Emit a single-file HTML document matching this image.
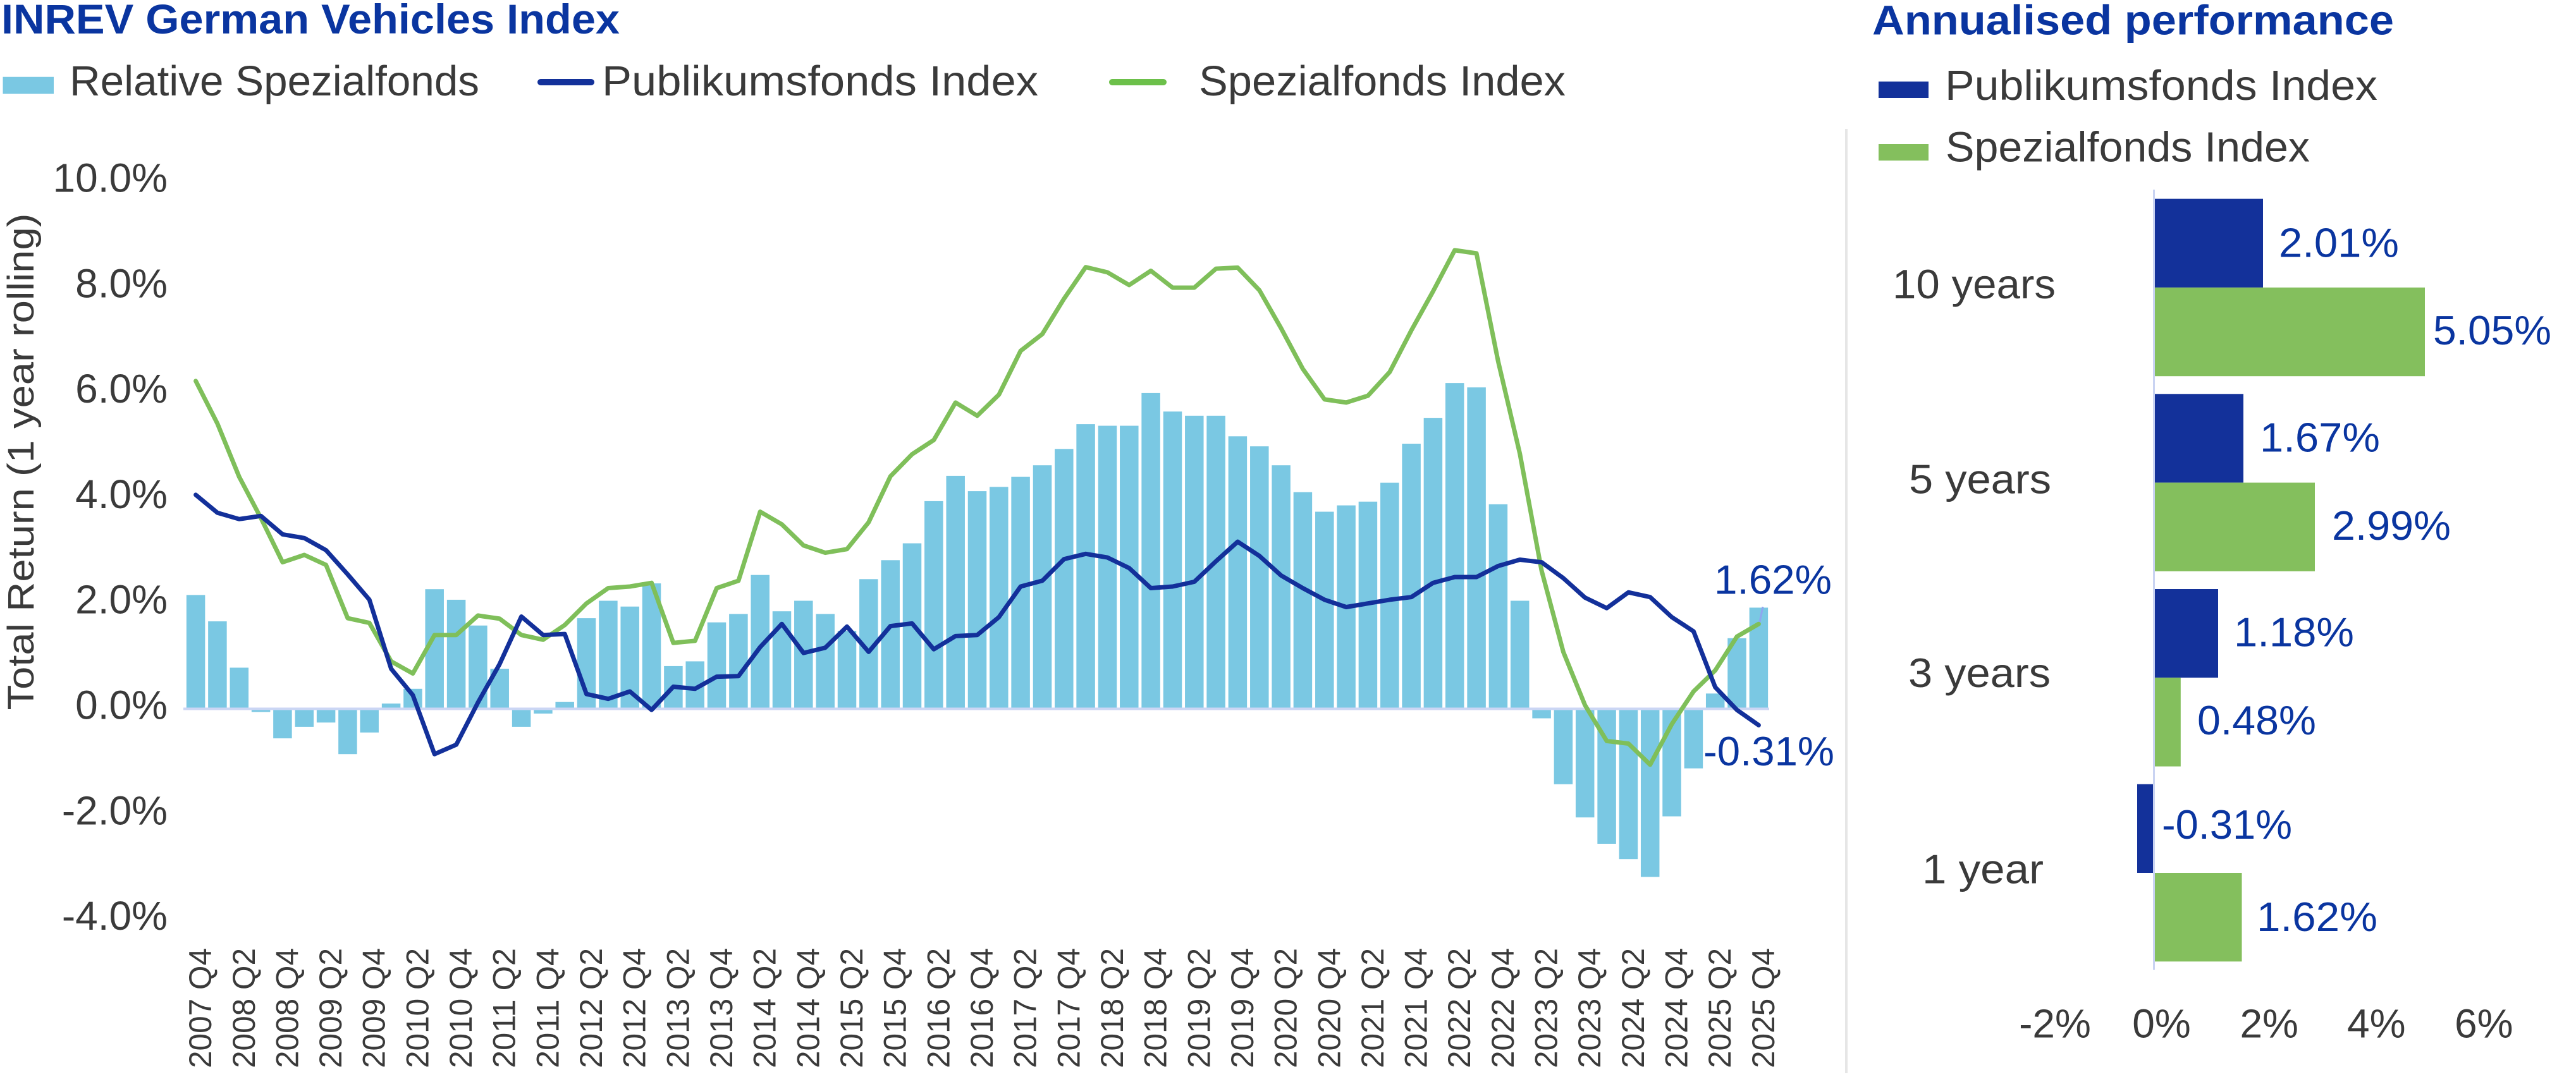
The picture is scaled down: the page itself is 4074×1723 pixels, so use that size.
<!DOCTYPE html>
<html>
<head>
<meta charset="utf-8">
<style>
html,body{margin:0;padding:0;background:#fff;}
svg{display:block;}
text{font-family:"Liberation Sans",Arial,sans-serif;}
</style>
</head>
<body>
<svg width="4074" height="1723" viewBox="0 0 4074 1723" xmlns="http://www.w3.org/2000/svg">
<rect x="0" y="0" width="4074" height="1723" fill="#ffffff"/>

<!-- Titles -->
<text x="2" y="53" font-size="66" font-weight="bold" fill="#0a35a0" textLength="978" lengthAdjust="spacingAndGlyphs">INREV German Vehicles Index</text>
<text x="2961" y="54.5" font-size="66" font-weight="bold" fill="#0a35a0" textLength="825" lengthAdjust="spacingAndGlyphs">Annualised performance</text>

<!-- Left legend -->
<rect x="4.5" y="121.7" width="80.5" height="26.8" fill="#7ac8e3"/>
<text x="110" y="151" font-size="67" fill="#3a3a3a" textLength="648" lengthAdjust="spacingAndGlyphs">Relative Spezialfonds</text>
<line x1="855" y1="130" x2="935" y2="130" stroke="#13319a" stroke-width="10" stroke-linecap="round"/>
<text x="952" y="151" font-size="67" fill="#3a3a3a" textLength="690" lengthAdjust="spacingAndGlyphs">Publikumsfonds Index</text>
<line x1="1759" y1="130" x2="1840" y2="130" stroke="#6cc04a" stroke-width="10" stroke-linecap="round"/>
<text x="1896" y="151" font-size="67" fill="#3a3a3a" textLength="580" lengthAdjust="spacingAndGlyphs">Spezialfonds Index</text>

<!-- Right legend -->
<rect x="2971" y="129" width="79" height="26" fill="#13319a"/>
<text x="3076" y="158" font-size="67" fill="#3a3a3a" textLength="684" lengthAdjust="spacingAndGlyphs">Publikumsfonds Index</text>
<rect x="2971" y="228" width="79" height="26" fill="#84bf5d"/>
<text x="3077" y="255.5" font-size="67" fill="#3a3a3a" textLength="576" lengthAdjust="spacingAndGlyphs">Spezialfonds Index</text>

<!-- Separator -->
<line x1="2920" y1="204" x2="2920" y2="1698" stroke="#e6e6e6" stroke-width="4"/>

<!-- Y axis title -->
<text transform="translate(53 1123.5) rotate(-90)" font-size="58" fill="#3a3a3a" textLength="786" lengthAdjust="spacingAndGlyphs">Total Return (1 year rolling)</text>

<!-- Y tick labels -->
<g font-size="64" fill="#3a3a3a" text-anchor="end">
<text x="265" y="303.5">10.0%</text>
<text x="265" y="470.3">8.0%</text>
<text x="265" y="637.1">6.0%</text>
<text x="265" y="803.9">4.0%</text>
<text x="265" y="970.7">2.0%</text>
<text x="265" y="1137.5">0.0%</text>
<text x="265" y="1304.3">-2.0%</text>
<text x="265" y="1471.1">-4.0%</text>
</g>

<!-- Bars -->
<g fill="#7ac8e3">
<rect x="294.85" y="941.4" width="29.5" height="180.1"/>
<rect x="329.15" y="983.1" width="29.5" height="138.4"/>
<rect x="363.55" y="1056.4" width="29.5" height="65.1"/>
<rect x="397.85" y="1121.5" width="29.5" height="5.0"/>
<rect x="432.15" y="1121.5" width="29.5" height="46.7"/>
<rect x="466.55" y="1121.5" width="29.5" height="28.4"/>
<rect x="500.85" y="1121.5" width="29.5" height="21.7"/>
<rect x="535.15" y="1121.5" width="29.5" height="71.7"/>
<rect x="569.45" y="1121.5" width="29.5" height="37.5"/>
<rect x="603.85" y="1113.2" width="29.5" height="8.3"/>
<rect x="638.15" y="1089.8" width="29.5" height="31.7"/>
<rect x="672.45" y="932.2" width="29.5" height="189.3"/>
<rect x="706.85" y="948.9" width="29.5" height="172.6"/>
<rect x="741.15" y="989.7" width="29.5" height="131.8"/>
<rect x="775.45" y="1058.1" width="29.5" height="63.4"/>
<rect x="809.85" y="1121.5" width="29.5" height="28.4"/>
<rect x="844.15" y="1121.5" width="29.5" height="7.5"/>
<rect x="878.45" y="1110.7" width="29.5" height="10.8"/>
<rect x="912.75" y="978.1" width="29.5" height="143.4"/>
<rect x="947.15" y="950.5" width="29.5" height="171.0"/>
<rect x="981.45" y="959.7" width="29.5" height="161.8"/>
<rect x="1015.75" y="923.0" width="29.5" height="198.5"/>
<rect x="1050.15" y="1053.9" width="29.5" height="67.6"/>
<rect x="1084.45" y="1046.4" width="29.5" height="75.1"/>
<rect x="1118.75" y="984.7" width="29.5" height="136.8"/>
<rect x="1153.15" y="971.4" width="29.5" height="150.1"/>
<rect x="1187.45" y="909.7" width="29.5" height="211.8"/>
<rect x="1221.75" y="967.2" width="29.5" height="154.3"/>
<rect x="1256.05" y="950.5" width="29.5" height="171.0"/>
<rect x="1290.45" y="971.4" width="29.5" height="150.1"/>
<rect x="1324.75" y="998.1" width="29.5" height="123.4"/>
<rect x="1359.05" y="916.3" width="29.5" height="205.2"/>
<rect x="1393.45" y="886.3" width="29.5" height="235.2"/>
<rect x="1427.75" y="859.6" width="29.5" height="261.9"/>
<rect x="1462.05" y="792.9" width="29.5" height="328.6"/>
<rect x="1496.45" y="752.9" width="29.5" height="368.6"/>
<rect x="1530.75" y="777.1" width="29.5" height="344.4"/>
<rect x="1565.05" y="770.4" width="29.5" height="351.1"/>
<rect x="1599.35" y="754.5" width="29.5" height="367.0"/>
<rect x="1633.75" y="736.2" width="29.5" height="385.3"/>
<rect x="1668.05" y="710.3" width="29.5" height="411.2"/>
<rect x="1702.35" y="671.1" width="29.5" height="450.4"/>
<rect x="1736.75" y="673.6" width="29.5" height="447.9"/>
<rect x="1771.05" y="673.6" width="29.5" height="447.9"/>
<rect x="1805.35" y="621.9" width="29.5" height="499.6"/>
<rect x="1839.75" y="651.1" width="29.5" height="470.4"/>
<rect x="1874.05" y="657.8" width="29.5" height="463.7"/>
<rect x="1908.35" y="657.8" width="29.5" height="463.7"/>
<rect x="1942.65" y="690.3" width="29.5" height="431.2"/>
<rect x="1977.05" y="706.2" width="29.5" height="415.3"/>
<rect x="2011.35" y="736.2" width="29.5" height="385.3"/>
<rect x="2045.65" y="778.7" width="29.5" height="342.8"/>
<rect x="2080.05" y="809.6" width="29.5" height="311.9"/>
<rect x="2114.35" y="799.6" width="29.5" height="321.9"/>
<rect x="2148.65" y="793.7" width="29.5" height="327.8"/>
<rect x="2183.05" y="763.7" width="29.5" height="357.8"/>
<rect x="2217.35" y="702.0" width="29.5" height="419.5"/>
<rect x="2251.65" y="661.1" width="29.5" height="460.4"/>
<rect x="2285.95" y="606.1" width="29.5" height="515.4"/>
<rect x="2320.35" y="612.8" width="29.5" height="508.7"/>
<rect x="2354.65" y="797.9" width="29.5" height="323.6"/>
<rect x="2388.95" y="950.5" width="29.5" height="171.0"/>
<rect x="2423.35" y="1121.5" width="29.5" height="15.0"/>
<rect x="2457.65" y="1121.5" width="29.5" height="119.3"/>
<rect x="2491.95" y="1121.5" width="29.5" height="171.8"/>
<rect x="2526.35" y="1121.5" width="29.5" height="213.5"/>
<rect x="2560.65" y="1121.5" width="29.5" height="237.7"/>
<rect x="2594.95" y="1121.5" width="29.5" height="266.0"/>
<rect x="2629.25" y="1121.5" width="29.5" height="170.1"/>
<rect x="2663.65" y="1121.5" width="29.5" height="94.2"/>
<rect x="2697.95" y="1097.3" width="29.5" height="24.2"/>
<rect x="2732.25" y="1009.7" width="29.5" height="111.8"/>
<rect x="2766.65" y="961.4" width="29.5" height="160.1"/>
</g>

<!-- Zero line -->
<line x1="290" y1="1121.5" x2="2798" y2="1121.5" stroke="#cbd6f4" stroke-width="4"/>

<!-- Spezialfonds line -->
<polyline fill="none" stroke="#7fbf5a" stroke-width="7" stroke-linejoin="round" stroke-linecap="round" points="
309.6,602.8 343.9,670.3 378.3,754.5 412.6,819.6 446.9,889.6 481.3,878.0 515.6,893.8 549.9,978.1 584.2,985.6 618.6,1046.4
652.9,1065.6 687.2,1004.7 721.6,1004.7 755.9,973.9 790.2,978.9 824.6,1004.7 858.9,1012.2 893.2,988.9 927.5,954.7 961.9,930.5
996.2,928.0 1030.5,922.2 1064.9,1017.2 1099.2,1013.9 1133.5,930.5 1167.9,918.8 1202.2,809.6 1236.5,829.6 1270.8,863.0 1305.2,874.6
1339.5,868.8 1373.8,826.3 1408.2,753.7 1442.5,718.7 1476.8,696.2 1511.2,636.9 1545.5,657.8 1579.8,624.4 1614.1,555.2 1648.5,528.5
1682.8,472.6 1717.1,422.6 1751.5,430.9 1785.8,451.0 1820.1,428.4 1854.5,455.1 1888.8,455.1 1923.1,425.1 1957.4,423.4 1991.8,459.3
2026.1,519.4 2060.4,583.6 2094.8,631.9 2129.1,636.9 2163.4,626.1 2197.8,588.6 2232.1,522.7 2266.4,461.0 2300.7,395.9 2335.1,400.9
2369.4,571.9 2403.7,717.8 2438.1,903.0 2472.4,1031.4 2506.7,1115.7 2541.1,1172.4 2575.4,1176.5 2609.7,1209.9 2644.0,1145.7 2678.4,1094.0
2712.7,1060.6 2747.0,1007.2 2781.4,987.2"/>

<!-- Publikumsfonds line -->
<polyline fill="none" stroke="#13309a" stroke-width="7" stroke-linejoin="round" stroke-linecap="round" points="
309.6,782.9 343.9,811.3 378.3,821.3 412.6,816.3 446.9,845.4 481.3,851.3 515.6,870.5 549.9,908.8 584.2,948.9 618.6,1058.1
652.9,1099.8 687.2,1193.2 721.6,1178.2 755.9,1111.5 790.2,1050.6 824.6,975.5 858.9,1004.7 893.2,1003.1 927.5,1098.1 961.9,1105.7
996.2,1094.0 1030.5,1123.2 1064.9,1086.5 1099.2,1089.8 1133.5,1070.6 1167.9,1069.8 1202.2,1023.9 1236.5,987.2 1270.8,1033.1 1305.2,1024.8
1339.5,991.4 1373.8,1031.4 1408.2,990.6 1442.5,986.4 1476.8,1027.3 1511.2,1006.4 1545.5,1004.7 1579.8,976.4 1614.1,928.0 1648.5,918.8
1682.8,884.6 1717.1,876.3 1751.5,882.1 1785.8,898.8 1820.1,930.5 1854.5,928.0 1888.8,920.5 1923.1,888.0 1957.4,857.1 1991.8,879.6
2026.1,910.5 2060.4,930.5 2094.8,948.9 2129.1,960.5 2163.4,954.7 2197.8,948.9 2232.1,944.7 2266.4,922.2 2300.7,913.0 2335.1,913.0
2369.4,895.5 2403.7,885.5 2438.1,889.6 2472.4,914.7 2506.7,945.5 2541.1,962.2 2575.4,937.2 2609.7,944.7 2644.0,976.4 2678.4,998.9
2712.7,1087.3 2747.0,1123.2 2781.4,1147.4"/>

<!-- leader line -->
<line x1="2783" y1="984" x2="2788" y2="960" stroke="#8fa6f0" stroke-width="3"/>

<!-- Line end labels -->
<text x="2711" y="939.3" font-size="65" fill="#0a35a0" textLength="186" lengthAdjust="spacingAndGlyphs">1.62%</text>
<text x="2694" y="1211" font-size="65" fill="#0a35a0" textLength="207" lengthAdjust="spacingAndGlyphs">-0.31%</text>

<!-- X labels -->
<g font-size="50" fill="#3a3a3a" text-anchor="end">
<text transform="translate(334.1 1500) rotate(-90)" textLength="190" lengthAdjust="spacingAndGlyphs">2007 Q4</text>
<text transform="translate(402.8 1500) rotate(-90)" textLength="190" lengthAdjust="spacingAndGlyphs">2008 Q2</text>
<text transform="translate(471.4 1500) rotate(-90)" textLength="190" lengthAdjust="spacingAndGlyphs">2008 Q4</text>
<text transform="translate(540.1 1500) rotate(-90)" textLength="190" lengthAdjust="spacingAndGlyphs">2009 Q2</text>
<text transform="translate(608.7 1500) rotate(-90)" textLength="190" lengthAdjust="spacingAndGlyphs">2009 Q4</text>
<text transform="translate(677.4 1500) rotate(-90)" textLength="190" lengthAdjust="spacingAndGlyphs">2010 Q2</text>
<text transform="translate(746.1 1500) rotate(-90)" textLength="190" lengthAdjust="spacingAndGlyphs">2010 Q4</text>
<text transform="translate(814.7 1500) rotate(-90)" textLength="190" lengthAdjust="spacingAndGlyphs">2011 Q2</text>
<text transform="translate(883.4 1500) rotate(-90)" textLength="190" lengthAdjust="spacingAndGlyphs">2011 Q4</text>
<text transform="translate(952.0 1500) rotate(-90)" textLength="190" lengthAdjust="spacingAndGlyphs">2012 Q2</text>
<text transform="translate(1020.7 1500) rotate(-90)" textLength="190" lengthAdjust="spacingAndGlyphs">2012 Q4</text>
<text transform="translate(1089.4 1500) rotate(-90)" textLength="190" lengthAdjust="spacingAndGlyphs">2013 Q2</text>
<text transform="translate(1158.0 1500) rotate(-90)" textLength="190" lengthAdjust="spacingAndGlyphs">2013 Q4</text>
<text transform="translate(1226.7 1500) rotate(-90)" textLength="190" lengthAdjust="spacingAndGlyphs">2014 Q2</text>
<text transform="translate(1295.3 1500) rotate(-90)" textLength="190" lengthAdjust="spacingAndGlyphs">2014 Q4</text>
<text transform="translate(1364.0 1500) rotate(-90)" textLength="190" lengthAdjust="spacingAndGlyphs">2015 Q2</text>
<text transform="translate(1432.7 1500) rotate(-90)" textLength="190" lengthAdjust="spacingAndGlyphs">2015 Q4</text>
<text transform="translate(1501.3 1500) rotate(-90)" textLength="190" lengthAdjust="spacingAndGlyphs">2016 Q2</text>
<text transform="translate(1570.0 1500) rotate(-90)" textLength="190" lengthAdjust="spacingAndGlyphs">2016 Q4</text>
<text transform="translate(1638.6 1500) rotate(-90)" textLength="190" lengthAdjust="spacingAndGlyphs">2017 Q2</text>
<text transform="translate(1707.3 1500) rotate(-90)" textLength="190" lengthAdjust="spacingAndGlyphs">2017 Q4</text>
<text transform="translate(1776.0 1500) rotate(-90)" textLength="190" lengthAdjust="spacingAndGlyphs">2018 Q2</text>
<text transform="translate(1844.6 1500) rotate(-90)" textLength="190" lengthAdjust="spacingAndGlyphs">2018 Q4</text>
<text transform="translate(1913.3 1500) rotate(-90)" textLength="190" lengthAdjust="spacingAndGlyphs">2019 Q2</text>
<text transform="translate(1981.9 1500) rotate(-90)" textLength="190" lengthAdjust="spacingAndGlyphs">2019 Q4</text>
<text transform="translate(2050.6 1500) rotate(-90)" textLength="190" lengthAdjust="spacingAndGlyphs">2020 Q2</text>
<text transform="translate(2119.3 1500) rotate(-90)" textLength="190" lengthAdjust="spacingAndGlyphs">2020 Q4</text>
<text transform="translate(2187.9 1500) rotate(-90)" textLength="190" lengthAdjust="spacingAndGlyphs">2021 Q2</text>
<text transform="translate(2256.6 1500) rotate(-90)" textLength="190" lengthAdjust="spacingAndGlyphs">2021 Q4</text>
<text transform="translate(2325.2 1500) rotate(-90)" textLength="190" lengthAdjust="spacingAndGlyphs">2022 Q2</text>
<text transform="translate(2393.9 1500) rotate(-90)" textLength="190" lengthAdjust="spacingAndGlyphs">2022 Q4</text>
<text transform="translate(2462.6 1500) rotate(-90)" textLength="190" lengthAdjust="spacingAndGlyphs">2023 Q2</text>
<text transform="translate(2531.2 1500) rotate(-90)" textLength="190" lengthAdjust="spacingAndGlyphs">2023 Q4</text>
<text transform="translate(2599.9 1500) rotate(-90)" textLength="190" lengthAdjust="spacingAndGlyphs">2024 Q2</text>
<text transform="translate(2668.5 1500) rotate(-90)" textLength="190" lengthAdjust="spacingAndGlyphs">2024 Q4</text>
<text transform="translate(2737.2 1500) rotate(-90)" textLength="190" lengthAdjust="spacingAndGlyphs">2025 Q2</text>
<text transform="translate(2805.9 1500) rotate(-90)" textLength="190" lengthAdjust="spacingAndGlyphs">2025 Q4</text>
</g>

<!-- Right chart bars -->
<rect x="3406.5" y="314.6" width="172.5" height="140.3" fill="#13319a"/>
<rect x="3406.5" y="454.9" width="428.5" height="140.3" fill="#84bf5d"/>
<rect x="3406.5" y="623.3" width="141.5" height="140.3" fill="#13319a"/>
<rect x="3406.5" y="763.6" width="254.5" height="140.3" fill="#84bf5d"/>
<rect x="3406.5" y="932.0" width="101.5" height="140.3" fill="#13319a"/>
<rect x="3406.5" y="1072.3" width="42.3" height="140.3" fill="#84bf5d"/>
<rect x="3380" y="1240.7" width="26.5" height="140.3" fill="#13319a"/>
<rect x="3406.5" y="1381.0" width="139" height="140.3" fill="#84bf5d"/>

<!-- Right zero axis -->
<line x1="3406.5" y1="300" x2="3406.5" y2="1534.6" stroke="#c9d3f2" stroke-width="3"/>

<!-- Right category labels -->
<g font-size="65" fill="#3a3a3a">
<text x="2993" y="472" textLength="258" lengthAdjust="spacingAndGlyphs">10 years</text>
<text x="3019" y="780.7" textLength="225" lengthAdjust="spacingAndGlyphs">5 years</text>
<text x="3018" y="1087" textLength="225" lengthAdjust="spacingAndGlyphs">3 years</text>
<text x="3040" y="1397.4" textLength="192" lengthAdjust="spacingAndGlyphs">1 year</text>
</g>

<!-- Right value labels -->
<g font-size="65" fill="#0a35a0">
<text x="3604" y="406.4" textLength="190" lengthAdjust="spacingAndGlyphs">2.01%</text>
<text x="3848" y="545" textLength="187" lengthAdjust="spacingAndGlyphs">5.05%</text>
<text x="3574" y="714.7" textLength="190" lengthAdjust="spacingAndGlyphs">1.67%</text>
<text x="3688" y="854" textLength="188" lengthAdjust="spacingAndGlyphs">2.99%</text>
<text x="3533" y="1022.5" textLength="190" lengthAdjust="spacingAndGlyphs">1.18%</text>
<text x="3475" y="1162" textLength="188" lengthAdjust="spacingAndGlyphs">0.48%</text>
<text x="3419" y="1326.8" textLength="206" lengthAdjust="spacingAndGlyphs">-0.31%</text>
<text x="3569" y="1472.8" textLength="191" lengthAdjust="spacingAndGlyphs">1.62%</text>
</g>

<!-- Right tick labels -->
<g font-size="64" fill="#3a3a3a" text-anchor="middle">
<text x="3250" y="1641.7">-2%</text>
<text x="3418.5" y="1641.7">0%</text>
<text x="3588.7" y="1641.7">2%</text>
<text x="3758.3" y="1641.7">4%</text>
<text x="3928.3" y="1641.7">6%</text>
</g>
</svg>
</body>
</html>
